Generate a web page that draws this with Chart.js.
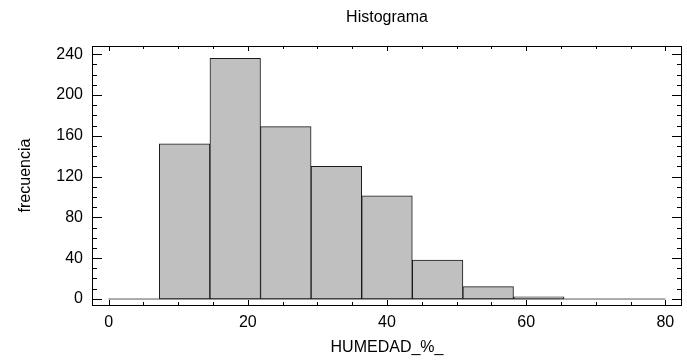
<!DOCTYPE html>
<html>
<head>
<meta charset="utf-8">
<script src="https://cdn.jsdelivr.net/npm/chart.js@4"></script>
<style>
  body { margin: 0; background: #fff; }
</style>
</head>
<body>
<canvas id="myChart" width="687" height="360"></canvas>
<script>
// bin edges and counts
const binEdges = [0, 7.27, 14.55, 21.82, 29.09, 36.36, 43.64, 50.91, 58.18, 65.45, 72.73, 80];
const counts = [0, 152, 236, 169, 130, 101, 38, 12, 2, 0, 0];
const xTicks = [0, 20, 40, 60, 80];
const yTicks = [0, 40, 80, 120, 160, 200, 240];
const xMinorStep = 5;
const yMinorStep = 10;

const font = "'Liberation Sans', Arial, sans-serif";

// inner tick marks on all four sides plus the box
const frameTicks = {
  id: 'frameTicks',
  afterDatasetsDraw(chart) {
    const {ctx, chartArea: a, scales: {x, y}} = chart;
    ctx.save();
    ctx.strokeStyle = '#000';
    ctx.lineWidth = 1;
    ctx.beginPath();
    for (let v = xTicks[0]; v <= xTicks[xTicks.length - 1]; v += xMinorStep) {
      let px = Math.round(x.getPixelForValue(v)) + 0.5;
      let len = xTicks.includes(v) ? 5 : 3;
      ctx.moveTo(px, a.bottom); ctx.lineTo(px, a.bottom - len);
      ctx.moveTo(px, a.top); ctx.lineTo(px, a.top + len);
    }
    for (let v = yTicks[0]; v <= y.max; v += yMinorStep) {
      let py = Math.round(y.getPixelForValue(v)) + 0.5;
      let len = yTicks.includes(v) ? 10 : 5;
      ctx.moveTo(a.left, py); ctx.lineTo(a.left + len, py);
      ctx.moveTo(a.right, py); ctx.lineTo(a.right - len, py);
    }
    ctx.stroke();
    ctx.strokeRect(Math.round(a.left) + 0.5, Math.round(a.top) + 0.5,
      Math.round(a.right - a.left) - 1, Math.round(a.bottom - a.top));
    ctx.restore();
  }
};

var ctx = document.getElementById('myChart');
const centers = counts.map((c, i) => (binEdges[i] + binEdges[i + 1]) / 2);

const config = {
  type: 'bar',
  data: {
    datasets: [
      {
        label: 'frecuencia',
        data: counts.map((c, i) => ({x: centers[i], y: c})),
        backgroundColor: '#c0c0c0',
        borderColor: '#1a1a1a',
        // empty bins only show the grey base line
        borderWidth: (c) => (c.raw && c.raw.y === 0 ? 0 : 1),
        borderSkipped: false,
        barPercentage: 1,
        categoryPercentage: 1,
        order: 1
      },
      {
        type: 'line',
        label: 'base',
        data: [{x: binEdges[0], y: 0}, {x: binEdges[binEdges.length - 1], y: 0}],
        borderColor: '#808080',
        borderWidth: 1.5,
        pointRadius: 0,
        order: 2
      }
    ]
  },
  options: {
    responsive: false,
    animation: false,
    layout: { padding: { top: 0, right: 5, bottom: 0, left: 0 } },
    plugins: {
      legend: { display: false },
      tooltip: { enabled: false },
      title: {
        display: true,
        text: 'Histograma',
        fullSize: false,
        color: '#000',
        font: { family: font, size: 16, weight: 'normal', lineHeight: 1.2 },
        padding: { top: 8, bottom: 18.8 }
      }
    },
    scales: {
      x: {
        type: 'linear',
        offset: false,
        min: -2.4,
        max: 82.4,
        grid: { display: false, drawTicks: false, offset: false },
        border: { display: false },
        ticks: {
          stepSize: 20,
          includeBounds: false,
          padding: 8,
          color: '#000',
          maxRotation: 0,
          font: { family: font, size: 16 }
        },
        title: {
          display: true,
          text: 'HUMEDAD_%_',
          color: '#000',
          font: { family: font, size: 16 },
          padding: { top: 0, bottom: 3 }
        },
        afterFit(scale) { scale.height = 55; }
      },
      y: {
        min: -6,
        max: 248,
        grid: { display: false, drawTicks: false },
        border: { display: false },
        ticks: {
          stepSize: 40,
          includeBounds: false,
          padding: 9,
          color: '#000',
          font: { family: font, size: 16 }
        },
        title: {
          display: true,
          text: 'frecuencia',
          color: '#000',
          font: { family: font, size: 16 },
          padding: { top: 16, bottom: 0 }
        },
        afterFit(scale) { scale.width = 92; }
      }
    }
  },
  plugins: [frameTicks]
};
var myChart = new Chart(ctx, config);
</script>
</body>
</html>
